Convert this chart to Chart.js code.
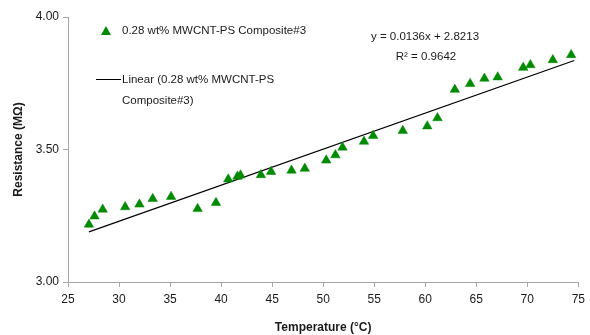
<!DOCTYPE html>
<html>
<head>
<meta charset="utf-8">
<script src="https://cdn.jsdelivr.net/npm/chart.js@4.4.1/dist/chart.umd.min.js"></script>
<style>
  html, body { margin: 0; padding: 0; background: #ffffff; }
  #wrap { width: 590px; height: 335px; position: relative; }
</style>
</head>
<body>
<div id="wrap"><canvas id="chart" width="590" height="335"></canvas></div>
<script>
// ===== DATA =====
const temperature = [27.05, 27.6, 28.4, 30.6, 32.0, 33.3, 35.1, 37.7, 39.5, 40.7, 41.6, 41.9,
    43.9, 44.9, 46.9, 48.2, 50.3, 51.2, 51.9, 54.0, 54.9, 57.8, 60.2, 61.2, 62.9, 64.4,
    65.8, 67.1, 69.6, 70.3, 72.5, 74.3];
const resistance = [3.217, 3.248, 3.274, 3.283, 3.293, 3.314, 3.322, 3.276, 3.299, 3.388, 3.398, 3.403,
    3.404, 3.416, 3.421, 3.428, 3.459, 3.479, 3.508, 3.530, 3.552, 3.571, 3.588, 3.619, 3.726, 3.748,
    3.768, 3.773, 3.809, 3.819, 3.838, 3.857];

// trendline end points (y = 0.0136x + 2.8213)
const trendX = [27.05, 74.6];
const trendY = [3.189, 3.836];

const xTicks = [25, 30, 35, 40, 45, 50, 55, 60, 65, 70, 75];
const yTicks = [3.00, 3.50, 4.00];

const seriesLabel = '0.28 wt% MWCNT-PS Composite#3';
const trendLabel = ['Linear (0.28 wt% MWCNT-PS', 'Composite#3)'];
const equationText = ['y = 0.0136x + 2.8213', 'R\u00B2 = 0.9642'];

// ===== STYLE =====
const FONT = '"Liberation Sans", Arial, sans-serif';
const GREEN = '#008a00';
const AXIS = '#a6a6a6';

// legend + equation drawn on canvas
const overlay = {
    id: 'overlay',
    afterDraw(chart) {
        const ctx = chart.ctx;
        ctx.save();
        ctx.fillStyle = '#1a1a1a';
        ctx.font = '11.5px ' + FONT;
        ctx.textBaseline = 'middle';
        ctx.textAlign = 'left';

        // marker legend
        ctx.beginPath();
        ctx.moveTo(106, 26);
        ctx.lineTo(111, 35);
        ctx.lineTo(101, 35);
        ctx.closePath();
        ctx.fillStyle = GREEN;
        ctx.fill();
        ctx.fillStyle = '#1a1a1a';
        ctx.fillText(seriesLabel, 122, 31);

        // line legend
        ctx.strokeStyle = '#000';
        ctx.lineWidth = 1;
        ctx.beginPath();
        ctx.moveTo(96, 79.5);
        ctx.lineTo(121, 79.5);
        ctx.stroke();
        ctx.fillText(trendLabel[0], 122, 80);
        ctx.fillText(trendLabel[1], 122, 101);

        // equation
        ctx.textAlign = 'center';
        ctx.fillText(equationText[0], 425, 37);
        ctx.fillText(equationText[1], 426, 57);
        ctx.restore();
    }
};

new Chart(document.getElementById('chart').getContext('2d'), {
    type: 'scatter',
    data: {
        datasets: [{
            label: seriesLabel,
            data: temperature.map((t, i) => ({ x: t, y: resistance[i] })),
            pointStyle: 'triangle',
            pointRadius: 5.5,
            pointBackgroundColor: GREEN,
            pointBorderColor: GREEN,
            pointBorderWidth: 0.5,
            showLine: false
        }, {
            label: trendLabel.join(' '),
            data: trendX.map((t, i) => ({ x: t, y: trendY[i] })),
            showLine: true,
            borderColor: '#000000',
            borderWidth: 1.2,
            pointRadius: 0
        }]
    },
    options: {
        responsive: false,
        animation: false,
        layout: { padding: { top: 17, right: 10, left: 0, bottom: 0 } },
        plugins: {
            legend: { display: false },
            tooltip: { enabled: false }
        },
        scales: {
            x: {
                type: 'linear',
                min: 25,
                max: 75,
                afterBuildTicks: s => { s.ticks = xTicks.map(v => ({ value: v })); },
                afterFit: s => { s.height = 53; },
                ticks: { color: '#1a1a1a', font: { family: FONT, size: 12 }, padding: 5, maxRotation: 0 },
                grid: { drawOnChartArea: false, drawTicks: true, tickLength: 5, color: AXIS },
                border: { color: AXIS, width: 1 },
                title: {
                    display: true,
                    text: 'Temperature (\u00B0C)',
                    color: '#1a1a1a',
                    font: { family: FONT, size: 12, weight: 'bold' },
                    padding: { top: 6, bottom: 0 }
                }
            },
            y: {
                type: 'linear',
                min: 3,
                max: 4,
                afterBuildTicks: s => { s.ticks = yTicks.map(v => ({ value: v })); },
                afterFit: s => { s.width = 68; },
                ticks: {
                    color: '#1a1a1a',
                    font: { family: FONT, size: 12 },
                    padding: 4,
                    callback: v => Number(v).toFixed(2)
                },
                grid: { drawOnChartArea: false, drawTicks: true, tickLength: 5, color: AXIS },
                border: { color: AXIS, width: 1 },
                title: {
                    display: true,
                    text: 'Resistance (M\u03A9)',
                    color: '#1a1a1a',
                    font: { family: FONT, size: 12, weight: 'bold' },
                    padding: { top: 11, bottom: 4 }
                }
            }
        }
    },
    plugins: [overlay]
});
</script>
</body>
</html>
